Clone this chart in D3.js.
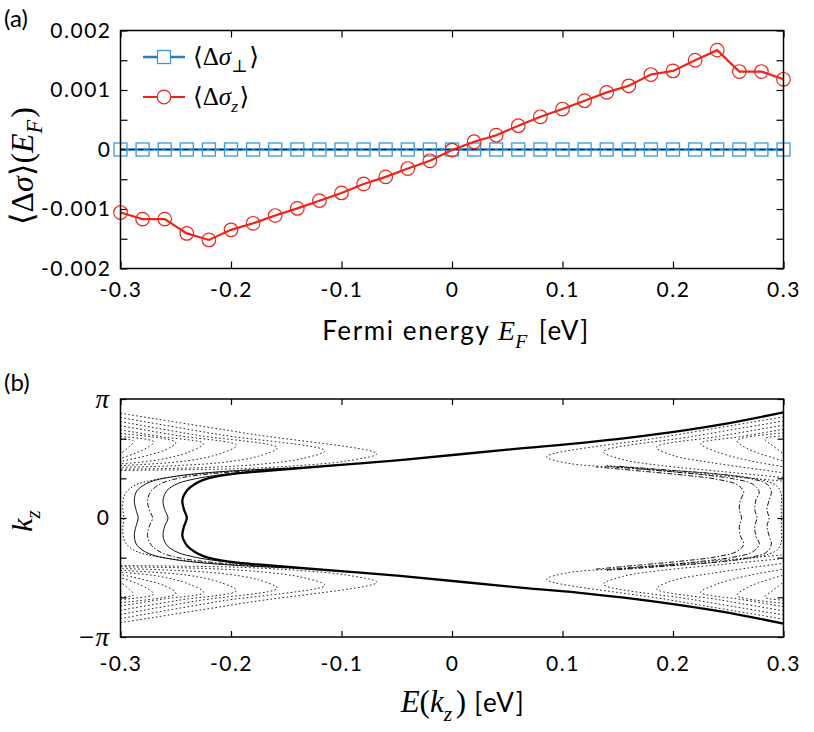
<!DOCTYPE html>
<html>
<head>
<meta charset="utf-8">
<title>Delta sigma vs Fermi energy</title>
<script src="https://d3js.org/d3.v7.min.js"></script>
<style>
  body { margin: 0; background: #fff; }
  svg text { font-family: Lato, "Noto Sans", sans-serif; }
</style>
</head>
<body>
<script>
// ---------- panel (a) ----------
var fermiEnergy = [-0.30, -0.28, -0.26, -0.24, -0.22, -0.20, -0.18, -0.16, -0.14, -0.12, -0.10,
                   -0.08, -0.06, -0.04, -0.02, 0.00, 0.02, 0.04, 0.06, 0.08, 0.10,
                   0.12, 0.14, 0.16, 0.18, 0.20, 0.22, 0.24, 0.26, 0.28, 0.30];
var sigmaPerp = [0, 0, 0, 0, 0, 0, 0, 0, 0, 0, 0, 0, 0, 0, 0, 0,
                 0, 0, 0, 0, 0, 0, 0, 0, 0, 0, 0, 0, 0, 0, 0];
var sigmaZ = [-0.00106, -0.00117, -0.00117, -0.00141, -0.00152, -0.00135, -0.00124, -0.00111,
              -0.00099, -0.00086, -0.00073, -0.00058, -0.00046, -0.00032, -0.00019, -0.00001,
              0.00013, 0.00024, 0.00040, 0.00055, 0.00068, 0.00082, 0.00096, 0.00107,
              0.00126, 0.00132, 0.00150, 0.00167, 0.00131, 0.00131, 0.00118];
var energyTicks = [-0.3, -0.2, -0.1, 0, 0.1, 0.2, 0.3];
var energyTickLabels = ['-0.3', '-0.2', '-0.1', '0', '0.1', '0.2', '0.3'];
var sigmaTicks = [0.002, 0.001, 0, -0.001, -0.002];
var sigmaTickLabels = ['0.002', '0.001', '0', '-0.001', '-0.002'];
var sigmaMinorTicks = [0.0015, 0.0005, -0.0005, -0.0015];

// ---------- panel (b) ----------  points are [E (eV), kz / pi]
var kzTicks = [-1, -2 / 3, -1 / 3, 0, 1 / 3, 2 / 3, 1];
var kzLabelValues = [1, 0, -1];
var kzTickLabels = ['\u03c0', '0', '\u2212\u03c0'];

var mainBand = [[0.300, 0.888], [0.243, 0.785], [0.182, 0.700], [0.122, 0.635], [0.062, 0.585],
  [-0.047, 0.487], [-0.095, 0.450], [-0.137, 0.420], [-0.170, 0.395], [-0.198, 0.370],
  [-0.215, 0.345], [-0.225, 0.320], [-0.233, 0.283], [-0.2395, 0.235], [-0.2440, 0.150],
  [-0.2425, 0.070], [-0.2400, 0], [-0.2425, -0.070], [-0.2440, -0.150], [-0.2395, -0.235],
  [-0.233, -0.283], [-0.225, -0.320], [-0.215, -0.345], [-0.198, -0.370], [-0.170, -0.395],
  [-0.137, -0.420], [-0.095, -0.450], [-0.047, -0.487], [0.062, -0.585], [0.122, -0.635],
  [0.182, -0.700], [0.243, -0.785], [0.300, -0.888]];

// upper halves; the lower half of panel (b) is the mirror kz -> -kz
var leftInner = [
  [[-0.257, 0], [-0.2600, 0.07], [-0.2615, 0.15], [-0.258, 0.23], [-0.248, 0.29], [-0.232, 0.33], [-0.212, 0.36], [-0.185, 0.388], [-0.150, 0.412]],
  [[-0.271, 0], [-0.2740, 0.07], [-0.2755, 0.15], [-0.272, 0.23], [-0.262, 0.295], [-0.244, 0.34], [-0.220, 0.37], [-0.190, 0.393], [-0.150, 0.415]],
  [[-0.284, 0], [-0.2860, 0.07], [-0.2875, 0.15], [-0.285, 0.23], [-0.274, 0.30], [-0.254, 0.345], [-0.228, 0.375], [-0.195, 0.398], [-0.150, 0.418]],
  [[-0.297, 0], [-0.298, 0.10], [-0.296, 0.20], [-0.288, 0.27], [-0.270, 0.32], [-0.245, 0.355], [-0.215, 0.383], [-0.180, 0.405], [-0.140, 0.425]]
];
var rightInner = [
  [[0.262, 0], [0.260, 0.07], [0.261, 0.15], [0.264, 0.22], [0.258, 0.28], [0.240, 0.325], [0.210, 0.36], [0.170, 0.395], [0.130, 0.43]],
  [[0.276, 0], [0.274, 0.07], [0.275, 0.15], [0.278, 0.22], [0.272, 0.285], [0.254, 0.33], [0.225, 0.365], [0.185, 0.40], [0.140, 0.435]],
  [[0.287, 0], [0.285, 0.07], [0.287, 0.15], [0.289, 0.22], [0.285, 0.285], [0.268, 0.335], [0.240, 0.37], [0.200, 0.40], [0.150, 0.435]],
  [[0.298, 0], [0.298, 0.10], [0.298, 0.20], [0.294, 0.27], [0.280, 0.32], [0.255, 0.355], [0.220, 0.385], [0.180, 0.41], [0.140, 0.44]]
];
var leftBands = [
  [[-0.3, 0.880], [-0.185, 0.710], [-0.068, 0.540], [-0.095, 0.480], [-0.140, 0.440], [-0.190, 0.415], [-0.245, 0.405], [-0.3, 0.400]],
  [[-0.3, 0.845], [-0.210, 0.700], [-0.115, 0.565], [-0.135, 0.500], [-0.170, 0.455], [-0.220, 0.425], [-0.3, 0.410]],
  [[-0.3, 0.810], [-0.230, 0.695], [-0.158, 0.590], [-0.175, 0.520], [-0.205, 0.470], [-0.250, 0.440], [-0.3, 0.425]],
  [[-0.3, 0.775], [-0.248, 0.692], [-0.195, 0.610], [-0.210, 0.540], [-0.240, 0.480], [-0.3, 0.440]],
  [[-0.3, 0.740], [-0.262, 0.682], [-0.225, 0.625], [-0.238, 0.555], [-0.265, 0.490], [-0.3, 0.455]],
  [[-0.3, 0.710], [-0.250, 0.635], [-0.260, 0.570], [-0.3, 0.475]],
  [[-0.3, 0.685], [-0.270, 0.640], [-0.278, 0.580], [-0.3, 0.500]],
  [[-0.3, 0.665], [-0.288, 0.645], [-0.292, 0.600], [-0.3, 0.540]]
];
var rightBands = [
  [[0.3, 0.850], [0.193, 0.683], [0.0857, 0.515], [0.105, 0.460], [0.150, 0.425], [0.200, 0.390], [0.250, 0.350], [0.3, 0.310]],
  [[0.3, 0.815], [0.218, 0.686], [0.137, 0.557], [0.155, 0.490], [0.190, 0.440], [0.245, 0.390], [0.3, 0.340]],
  [[0.3, 0.780], [0.242, 0.687], [0.185, 0.595], [0.200, 0.525], [0.235, 0.465], [0.3, 0.380]],
  [[0.3, 0.745], [0.262, 0.685], [0.225, 0.625], [0.240, 0.555], [0.265, 0.490], [0.3, 0.430]],
  [[0.3, 0.715], [0.258, 0.650], [0.268, 0.580], [0.3, 0.480]],
  [[0.3, 0.690], [0.283, 0.665], [0.290, 0.610], [0.3, 0.540]]
];
var leftInnerDash = ['none', '5,2,1.5,2', 'none', '1.5,2'];
var rightInnerDash = ['5,2,1.5,2', '5,2,1.5,2', '5,2,1.5,2', '1.5,2'];

// ---------- layout ----------
var W = 814, H = 732;
var fa = { left: 120.5, right: 783.5, top: 30.5, bottom: 268.5 };
var fb = { left: 120.5, right: 783.5, top: 399, bottom: 637 };
var blue = '#2a7dbd', blueMarker = '#3e98d6', red = '#ec2419';
var serif = '"Liberation Serif", "DejaVu Serif", serif';

var svg = d3.select('body').append('svg')
  .attr('width', W).attr('height', H)
  .style('background', '#fff');

// helper: text made of parts [string, italic, subscript, serif]; serif parts use `size`
function mathText(sel, parts, size) {
  parts.forEach(function(p) {
    var t = sel.append('tspan').text(p[0]);
    if (p[1] || p[3]) {
      t.style('font-family', serif).style('letter-spacing', '0px').attr('font-size', size);
      if (p[1]) t.style('font-style', 'italic');
    }
    if (p[2]) {
      t.attr('dy', size * 0.28).attr('font-size', size * 0.7);
      sel.append('tspan').attr('dy', -size * 0.28).attr('font-size', size).text('\u200a');
    }
  });
  return sel;
}

// ===== panel (a) =====
var xA = d3.scaleLinear().domain([-0.3, 0.3]).range([fa.left, fa.right]);
var yA = d3.scaleLinear().domain([-0.002, 0.002]).range([fa.bottom, fa.top]);

var gA = svg.append('g');
gA.append('g')
  .attr('transform', 'translate(0,' + fa.bottom + ')')
  .call(d3.axisBottom(xA).tickValues(energyTicks).tickSize(-7).tickPadding(14)
    .tickFormat(function(d, i) { return energyTickLabels[i]; }));
gA.append('g')
  .attr('transform', 'translate(0,' + fa.top + ')')
  .call(d3.axisTop(xA).tickValues(energyTicks).tickSize(-7).tickFormat(''));
gA.append('g')
  .attr('transform', 'translate(' + fa.left + ',0)')
  .call(d3.axisLeft(yA).tickValues(sigmaTicks).tickSize(-7).tickPadding(9)
    .tickFormat(function(d, i) { return sigmaTickLabels[i]; }));
gA.append('g')
  .attr('transform', 'translate(' + fa.left + ',0)')
  .call(d3.axisLeft(yA).tickValues(sigmaMinorTicks).tickSize(-7).tickFormat(''));
gA.append('g')
  .attr('transform', 'translate(' + fa.right + ',0)')
  .call(d3.axisRight(yA).tickValues(sigmaTicks.concat(sigmaMinorTicks)).tickSize(-7).tickFormat(''));
gA.selectAll('.domain').remove();
gA.selectAll('.tick line').attr('stroke', '#000').attr('stroke-width', 1.2);
gA.selectAll('.tick text').attr('font-size', 21).attr('font-family', 'Lato').attr('fill', '#000')
  .style('letter-spacing', '1.5px');

var lineA = d3.line().x(function(d) { return xA(d[0]); }).y(function(d) { return yA(d[1]); });
var perpPts = fermiEnergy.map(function(e, i) { return [e, sigmaPerp[i]]; });
var zPts = fermiEnergy.map(function(e, i) { return [e, sigmaZ[i]]; });

gA.append('path').attr('d', lineA(perpPts)).attr('fill', 'none')
  .attr('stroke', blue).attr('stroke-width', 2.5);
gA.append('line')
  .attr('x1', fa.left).attr('x2', fa.right).attr('y1', yA(0)).attr('y2', yA(0))
  .attr('stroke', '#111').attr('stroke-width', 1.1).attr('stroke-dasharray', '5,4');
gA.selectAll('rect.sq').data(perpPts).enter().append('rect')
  .attr('class', 'sq')
  .attr('x', function(d) { return xA(d[0]) - 6.5; })
  .attr('y', function(d) { return yA(d[1]) - 6.5; })
  .attr('width', 13).attr('height', 13)
  .attr('fill', 'none').attr('stroke', blueMarker).attr('stroke-width', 1.3);

gA.append('path').attr('d', lineA(zPts)).attr('fill', 'none')
  .attr('stroke', red).attr('stroke-width', 2.2);
gA.selectAll('circle.ci').data(zPts).enter().append('circle')
  .attr('class', 'ci')
  .attr('cx', function(d) { return xA(d[0]); })
  .attr('cy', function(d) { return yA(d[1]); })
  .attr('r', 6.8)
  .attr('fill', 'none').attr('stroke', red).attr('stroke-width', 1.2);

gA.append('rect')
  .attr('x', fa.left).attr('y', fa.top)
  .attr('width', fa.right - fa.left).attr('height', fa.bottom - fa.top)
  .attr('fill', 'none').attr('stroke', '#000').attr('stroke-width', 1.5);

// legend
var lg = gA.append('g');
lg.append('line').attr('x1', 143).attr('x2', 185).attr('y1', 57).attr('y2', 57)
  .attr('stroke', blue).attr('stroke-width', 2.5);
lg.append('rect').attr('x', 157.5).attr('y', 50.5).attr('width', 13).attr('height', 13)
  .attr('fill', '#fff').attr('stroke', blueMarker).attr('stroke-width', 1.3);
lg.append('line').attr('x1', 143).attr('x2', 185).attr('y1', 97).attr('y2', 97)
  .attr('stroke', red).attr('stroke-width', 2.2);
lg.append('circle').attr('cx', 164).attr('cy', 97).attr('r', 6.8)
  .attr('fill', '#fff').attr('stroke', red).attr('stroke-width', 1.2);
mathText(lg.append('text').attr('x', 193).attr('y', 65).attr('font-size', 25),
  [['\u27e8', 0, 0, 1], ['\u0394', 0, 0, 1], ['\u03c3', 1, 0], ['\u22a5', 0, 1, 1], ['\u27e9', 0, 0, 1]], 25);
mathText(lg.append('text').attr('x', 193).attr('y', 105).attr('font-size', 25),
  [['\u27e8', 0, 0, 1], ['\u0394', 0, 0, 1], ['\u03c3', 1, 0], ['z', 1, 1], ['\u27e9', 0, 0, 1]], 25);

// labels
svg.append('text').attr('x', 4).attr('y', 27).attr('font-size', 24).text('(a)');
mathText(svg.append('text').attr('font-size', 32).attr('text-anchor', 'middle')
  .attr('transform', 'translate(33,166) rotate(-90)'),
  [['\u27e8\u0394', 0, 0, 1], ['\u03c3', 1, 0], ['\u27e9(', 0, 0, 1], ['E', 1, 0], ['F', 1, 1], [')', 0, 0, 1]], 32);
mathText(svg.append('text').attr('x', 456).attr('y', 340).attr('font-size', 26)
  .attr('text-anchor', 'middle').style('letter-spacing', '1.6px'),
  [['Fermi energy  ', 0, 0], ['E', 1, 0], ['F', 1, 1], [' [eV]', 0, 0]], 28);

// ===== panel (b) =====
var xB = d3.scaleLinear().domain([-0.3, 0.3]).range([fb.left, fb.right]);
var yB = d3.scaleLinear().domain([-1, 1]).range([fb.bottom, fb.top]);
var lineB = d3.line().x(function(d) { return xB(d[0]); }).y(function(d) { return yB(d[1]); })
  .curve(d3.curveCatmullRom.alpha(0.5));
function mirror(pts) { return pts.map(function(p) { return [p[0], -p[1]]; }); }

svg.append('clipPath').attr('id', 'clipB').append('rect')
  .attr('x', fb.left).attr('y', fb.top)
  .attr('width', fb.right - fb.left).attr('height', fb.bottom - fb.top);
var gB = svg.append('g');
var plotB = gB.append('g').attr('clip-path', 'url(#clipB)');

leftBands.concat(rightBands).forEach(function(b) {
  [b, mirror(b)].forEach(function(pts) {
    plotB.append('path').attr('d', lineB(pts)).attr('fill', 'none')
      .attr('stroke', '#222').attr('stroke-width', 1).attr('stroke-dasharray', '1.6,2.4');
  });
});
leftInner.forEach(function(c, i) {
  var full = mirror(c).reverse().concat(c.slice(1));
  plotB.append('path').attr('d', lineB(full)).attr('fill', 'none')
    .attr('stroke', '#111').attr('stroke-width', 1).attr('stroke-dasharray', leftInnerDash[i]);
});
rightInner.forEach(function(c, i) {
  var full = mirror(c).reverse().concat(c.slice(1));
  plotB.append('path').attr('d', lineB(full)).attr('fill', 'none')
    .attr('stroke', '#111').attr('stroke-width', 1).attr('stroke-dasharray', rightInnerDash[i]);
});
plotB.append('path').attr('d', lineB(mainBand)).attr('fill', 'none')
  .attr('stroke', '#000').attr('stroke-width', 2.3);

gB.append('g')
  .attr('transform', 'translate(0,' + fb.bottom + ')')
  .call(d3.axisBottom(xB).tickValues(energyTicks).tickSize(-6).tickPadding(19)
    .tickFormat(function(d, i) { return energyTickLabels[i]; }));
gB.append('g')
  .attr('transform', 'translate(0,' + fb.top + ')')
  .call(d3.axisTop(xB).tickValues(energyTicks).tickSize(-6).tickFormat(''));
gB.append('g')
  .attr('transform', 'translate(' + fb.left + ',0)')
  .call(d3.axisLeft(yB).tickValues(kzTicks).tickSize(-6).tickFormat(''));
gB.append('g')
  .attr('transform', 'translate(' + fb.right + ',0)')
  .call(d3.axisRight(yB).tickValues(kzTicks).tickSize(-6).tickFormat(''));
gB.selectAll('.domain').remove();
gB.selectAll('.tick line').attr('stroke', '#000').attr('stroke-width', 1.2);
gB.selectAll('.tick text').attr('font-size', 21).attr('font-family', 'Lato').attr('fill', '#000')
  .style('letter-spacing', '1.5px');

gB.append('rect')
  .attr('x', fb.left).attr('y', fb.top)
  .attr('width', fb.right - fb.left).attr('height', fb.bottom - fb.top)
  .attr('fill', 'none').attr('stroke', '#000').attr('stroke-width', 1.5);

gB.selectAll('text.kzl').data(kzLabelValues).enter().append('text')
  .attr('class', 'kzl')
  .attr('x', 109)
  .attr('y', function(d) { return yB(d); })
  .attr('dy', '0.35em')
  .attr('text-anchor', 'end')
  .attr('font-size', function(d, i) { return i === 1 ? 21 : 27; })
  .style('font-family', function(d, i) { return i === 1 ? 'Lato' : serif; })
  .style('font-style', function(d, i) { return i === 1 ? 'normal' : 'italic'; })
  .text(function(d, i) { return kzTickLabels[i]; });

svg.append('text').attr('x', 4).attr('y', 391).attr('font-size', 24).text('(b)');
mathText(svg.append('text').attr('font-size', 30).attr('text-anchor', 'middle')
  .attr('transform', 'translate(32,520) rotate(-90)'),
  [['k', 1, 0], ['z', 1, 1]], 30);
mathText(svg.append('text').attr('x', 463).attr('y', 712).attr('font-size', 26)
  .attr('text-anchor', 'middle').style('letter-spacing', '1.6px'),
  [['E', 1, 0], ['(', 0, 0, 1], ['k', 1, 0], ['z', 1, 1], [')', 0, 0, 1], ['  [eV]', 0, 0]], 31);
</script>
</body>
</html>
